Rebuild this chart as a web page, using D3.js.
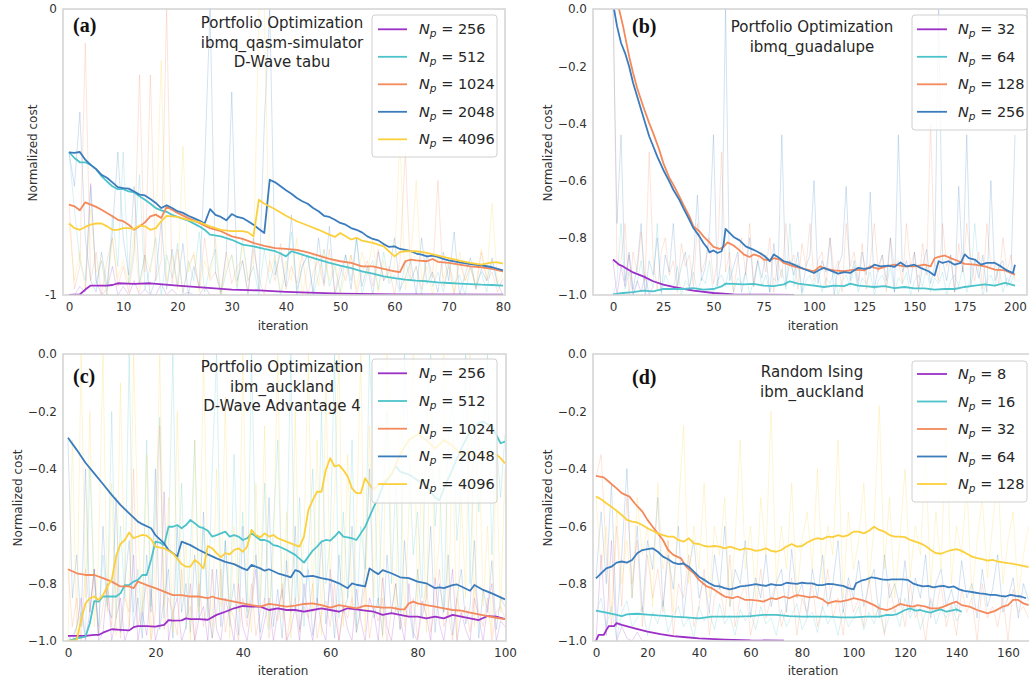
<!DOCTYPE html>
<html>
<head>
<meta charset="utf-8">
<script src="https://cdnjs.cloudflare.com/ajax/libs/d3/7.8.5/d3.min.js"></script>
<style>
  body { margin: 0; background: #fff; }
  svg { display: block; font-family: "DejaVu Sans", sans-serif; }
</style>
</head>
<body>
<div id="chart"></div>
<script>
// ################ DATA ################
// colours in legend order
var palette = ['#9c30c6', '#4cc3ca', '#f4895b', '#3b7cbd', '#fcd03c'];

// (a) Portfolio Optimization, ibmq_qasm-simulator, D-Wave tabu  -> [iteration, cost]
var labelsA = ['256', '512', '1024', '2048', '4096'];
var a256 = [[0,-1.0],[2,-0.998],[3,-0.981],[4,-0.967],[7,-0.967],[8,-0.965],[9,-0.959],[12,-0.961],[15,-0.959],[20,-0.967],[25,-0.974],[30,-0.981],[35,-0.984],[40,-0.989],[50,-0.995],[60,-0.998],[80,-0.999]];
var a512 = [[0,-0.50],[1,-0.521],[2,-0.536],[3,-0.536],[4,-0.545],[5,-0.56],[6,-0.585],[7,-0.603],[8,-0.62],[9,-0.63],[10,-0.63],[11,-0.638],[12,-0.641],[13,-0.655],[14,-0.667],[15,-0.681],[16,-0.696],[17,-0.704],[18,-0.709],[19,-0.72],[20,-0.727],[22,-0.74],[24,-0.76],[25,-0.772],[26,-0.789],[28,-0.795],[30,-0.807],[32,-0.824],[34,-0.83],[36,-0.839],[38,-0.847],[39,-0.855],[40,-0.865],[41,-0.847],[42,-0.853],[44,-0.865],[46,-0.876],[48,-0.888],[50,-0.897],[52,-0.906],[54,-0.917],[56,-0.925],[58,-0.935],[60,-0.941],[62,-0.946],[64,-0.95],[66,-0.952],[68,-0.956],[70,-0.958],[72,-0.96],[74,-0.962],[76,-0.964],[78,-0.965],[80,-0.967]];
var a1024 = [[0,-0.684],[1,-0.69],[2,-0.704],[3,-0.676],[4,-0.684],[5,-0.692],[6,-0.702],[7,-0.713],[8,-0.725],[9,-0.737],[10,-0.742],[11,-0.754],[12,-0.772],[13,-0.76],[14,-0.746],[15,-0.725],[16,-0.719],[17,-0.731],[18,-0.692],[19,-0.702],[20,-0.713],[22,-0.731],[24,-0.748],[26,-0.766],[28,-0.777],[30,-0.795],[32,-0.804],[34,-0.818],[36,-0.828],[38,-0.836],[40,-0.839],[42,-0.842],[44,-0.851],[46,-0.862],[48,-0.874],[50,-0.882],[52,-0.888],[54,-0.9],[56,-0.9],[58,-0.909],[60,-0.917],[61,-0.92],[62,-0.882],[63,-0.876],[64,-0.879],[66,-0.882],[67,-0.874],[68,-0.884],[70,-0.888],[72,-0.894],[74,-0.9],[76,-0.903],[78,-0.909],[80,-0.917]];
var a2048 = [[0,-0.501],[1,-0.503],[2,-0.50],[3,-0.527],[4,-0.545],[5,-0.56],[6,-0.58],[7,-0.59],[8,-0.606],[9,-0.623],[10,-0.626],[11,-0.628],[12,-0.638],[13,-0.649],[14,-0.652],[15,-0.664],[16,-0.678],[17,-0.696],[18,-0.686],[19,-0.696],[20,-0.707],[21,-0.713],[22,-0.723],[23,-0.731],[24,-0.74],[25,-0.75],[26,-0.70],[27,-0.72],[28,-0.727],[29,-0.739],[30,-0.717],[31,-0.727],[32,-0.731],[33,-0.742],[34,-0.754],[35,-0.769],[36,-0.783],[37,-0.597],[38,-0.606],[39,-0.62],[40,-0.634],[41,-0.646],[42,-0.661],[43,-0.672],[44,-0.681],[45,-0.696],[46,-0.707],[47,-0.723],[48,-0.727],[49,-0.737],[50,-0.748],[51,-0.754],[52,-0.766],[53,-0.772],[54,-0.781],[55,-0.795],[56,-0.804],[57,-0.809],[58,-0.822],[59,-0.832],[60,-0.83],[61,-0.839],[62,-0.842],[63,-0.847],[64,-0.855],[65,-0.859],[66,-0.865],[67,-0.862],[68,-0.867],[69,-0.874],[70,-0.879],[72,-0.886],[74,-0.892],[76,-0.896],[78,-0.903],[80,-0.914]];
var a4096 = [[0,-0.75],[1,-0.766],[2,-0.772],[3,-0.762],[4,-0.754],[5,-0.75],[6,-0.75],[7,-0.76],[8,-0.772],[9,-0.772],[10,-0.766],[11,-0.766],[12,-0.769],[13,-0.757],[14,-0.76],[15,-0.772],[16,-0.766],[17,-0.742],[18,-0.723],[19,-0.725],[20,-0.727],[22,-0.737],[24,-0.745],[26,-0.76],[28,-0.772],[30,-0.777],[32,-0.777],[33,-0.781],[34,-0.795],[35,-0.667],[36,-0.681],[38,-0.70],[40,-0.723],[42,-0.742],[44,-0.757],[46,-0.772],[48,-0.789],[49,-0.797],[50,-0.783],[52,-0.806],[53,-0.80],[54,-0.81],[56,-0.818],[58,-0.83],[60,-0.865],[61,-0.85],[62,-0.847],[64,-0.847],[66,-0.853],[68,-0.862],[70,-0.871],[72,-0.88],[74,-0.888],[76,-0.894],[78,-0.886],[79,-0.886],[80,-0.89]];
// faint raw runs (one value per iteration)
var rawA256 = [-1,-1,-0.97,-0.99,-0.61,-0.95,-1,-0.98,-0.90,-1,-0.97,-1,-0.95,-1,-0.98,-1,-1,-0.96,-1,-0.98,-1,-1,-0.99,-1,-1,-0.97,-1,-1,-1,-1];
var rawA512 = [-0.50,-0.70,-0.88,-0.95,-0.62,-0.96,-0.88,-1.00,-0.72,-0.90,-0.50,-0.96,-0.84,-0.58,-0.98,-0.90,-0.80,-1.00,-0.86,-0.94,-0.82,-1.00,-0.88,-0.95,-0.78,-0.99,-0.90,-0.84,-1.00,-0.92,-0.86,-0.98,-0.80,-0.95,-0.90,-1.00,-0.84,-0.96,-0.88,-1.00,-0.92,-0.78,-0.98,-0.90,-0.86,-1.00,-0.93,-0.84,-0.97,-0.90,-0.99,-0.86,-0.95,-0.80,-1.00,-0.92,-0.88,-0.98,-0.85,-0.96,-0.93,-0.99,-0.88,-0.95,-0.90,-1.00,-0.86,-0.97,-0.92,-0.99,-0.89,-0.96,-0.93,-1.00,-0.90,-0.97,-0.92,-0.99,-0.88,-0.97,-0.95];
var rawA1024 = [-0.68,-0.98,-0.90,-0.12,-0.95,-0.85,-1.00,-0.88,-0.80,-0.97,-0.90,-0.99,-0.86,-0.23,-0.92,-0.23,-0.95,-0.88,0.00,-0.96,-0.84,-0.99,-0.90,-0.86,-0.98,-0.80,-0.95,-0.92,-1.00,-0.85,-0.96,-0.90,-0.88,-0.99,-0.84,-0.94,-1.00,-0.88,-0.95,-0.82,-0.98,-0.90,-0.96,-0.86,-1.00,-0.92,-0.88,-0.97,-0.84,-0.99,-0.90,-0.95,-0.86,-1.00,-0.92,-0.88,-0.97,-0.84,-0.95,-0.90,-1.00,-0.88,-0.50,-0.95,-0.90,-0.98,-0.85,-0.94,-0.60,-0.97,-0.90,-1.00,-0.88,-0.95,-0.90,-0.98,-0.85,-0.95,-0.92,-0.99,-0.94];
var rawA2048 = [-0.50,-0.62,-0.36,-0.80,-0.95,-0.99,-0.85,-0.97,-0.78,-0.50,-0.80,-0.93,-0.62,-0.96,-0.86,-1.00,-0.94,-0.74,-0.98,-0.84,-0.97,-0.82,-1.00,-0.90,-0.97,-0.55,0.00,-0.92,-0.99,-0.85,-0.29,-0.95,-0.88,-1.00,-0.80,-0.98,-0.40,0.00,-0.93,-0.85,-0.97,-0.72,-1.00,-0.90,-0.86,-0.99,-0.80,-0.96,-0.76,-1.00,-0.93,-0.86,-0.98,-0.80,-0.97,-0.90,-1.00,-0.85,-0.95,-0.92,-0.80,-0.98,-0.94,-0.88,-1.00,-0.80,-0.96,-0.92,-0.99,-0.85,-0.95,-0.78,-1.00,-0.93,-0.87,-0.98,-0.91,-0.95,-0.87,-0.96,-1.00];
var rawA4096 = [-0.75,-0.95,-0.85,-0.98,-0.70,-0.92,-0.88,-1.00,-0.80,-0.94,-0.88,-0.96,-0.78,-0.99,-0.86,-0.92,-0.80,-0.18,-0.95,-0.86,-0.98,-0.48,-0.92,-0.85,-0.99,-0.88,-0.94,-0.80,-1.00,-0.90,-0.86,-0.97,-0.82,-0.95,-0.90,0.00,0.00,-0.92,-0.86,-0.99,-0.88,-0.95,-0.80,-1.00,-0.90,-0.86,-0.97,-0.84,-0.95,-0.88,-1.00,-0.92,-0.86,-0.98,-0.85,-0.93,-0.80,-0.99,-0.88,-0.95,-0.90,-0.45,-0.98,-0.88,-0.60,-0.95,-0.90,-1.00,-0.86,-0.94,-0.88,-0.99,-0.85,-0.95,-0.90,-0.97,-0.84,-0.94,-0.68,-0.96,-0.92];

// (b) Portfolio Optimization, ibmq_guadalupe
var labelsB = ['32', '64', '128', '256'];
var b32 = [[0,-0.876],[3,-0.894],[5,-0.90],[10,-0.921],[15,-0.935],[20,-0.952],[25,-0.964],[30,-0.972],[40,-0.985],[50,-0.993],[60,-0.998],[75,-0.999],[90,-1.0]];
var b64 = [[0,-0.998],[5,-0.993],[10,-0.99],[15,-0.985],[20,-0.987],[25,-0.979],[30,-0.979],[35,-0.979],[40,-0.976],[45,-0.981],[50,-0.979],[54,-0.97],[56,-0.96],[60,-0.961],[65,-0.963],[70,-0.961],[75,-0.967],[80,-0.969],[85,-0.963],[88,-0.952],[92,-0.96],[95,-0.963],[100,-0.967],[105,-0.972],[110,-0.967],[115,-0.969],[118,-0.96],[122,-0.967],[125,-0.969],[130,-0.972],[135,-0.969],[140,-0.976],[145,-0.972],[150,-0.977],[155,-0.977],[160,-0.981],[165,-0.979],[170,-0.979],[175,-0.972],[180,-0.967],[185,-0.963],[190,-0.967],[195,-0.958],[200,-0.967]];
var b128 = [[0,0.12],[3,0.0],[5,-0.06],[8,-0.165],[10,-0.224],[12,-0.276],[15,-0.34],[18,-0.399],[20,-0.434],[23,-0.492],[25,-0.538],[28,-0.59],[30,-0.614],[33,-0.655],[35,-0.684],[38,-0.725],[40,-0.76],[43,-0.777],[45,-0.795],[48,-0.816],[50,-0.832],[53,-0.839],[55,-0.832],[57,-0.816],[60,-0.827],[63,-0.844],[65,-0.858],[68,-0.867],[70,-0.858],[73,-0.865],[75,-0.876],[78,-0.879],[80,-0.871],[83,-0.876],[85,-0.888],[90,-0.90],[95,-0.909],[100,-0.917],[103,-0.90],[106,-0.909],[110,-0.914],[115,-0.917],[120,-0.911],[125,-0.914],[128,-0.90],[132,-0.909],[136,-0.90],[140,-0.894],[145,-0.90],[150,-0.90],[155,-0.894],[158,-0.90],[160,-0.871],[163,-0.865],[165,-0.862],[168,-0.871],[172,-0.882],[175,-0.891],[180,-0.894],[185,-0.90],[190,-0.911],[195,-0.914],[200,-0.929]];
var b256 = [[0,0.02],[2,-0.06],[4,-0.119],[6,-0.154],[8,-0.20],[10,-0.259],[12,-0.305],[14,-0.352],[16,-0.399],[18,-0.445],[20,-0.48],[22,-0.515],[25,-0.562],[28,-0.603],[30,-0.632],[33,-0.667],[35,-0.696],[38,-0.737],[40,-0.766],[43,-0.795],[45,-0.818],[47,-0.836],[48,-0.851],[50,-0.844],[52,-0.853],[54,-0.847],[55,-0.824],[56,-0.769],[58,-0.783],[60,-0.797],[63,-0.809],[66,-0.83],[70,-0.842],[73,-0.853],[75,-0.862],[77,-0.874],[78,-0.882],[80,-0.858],[82,-0.867],[85,-0.882],[88,-0.888],[90,-0.894],[95,-0.909],[100,-0.923],[103,-0.911],[105,-0.905],[108,-0.914],[112,-0.925],[115,-0.92],[118,-0.923],[122,-0.905],[125,-0.909],[128,-0.905],[130,-0.894],[133,-0.90],[137,-0.897],[140,-0.902],[143,-0.886],[146,-0.90],[150,-0.894],[153,-0.905],[157,-0.917],[160,-0.932],[162,-0.882],[164,-0.888],[167,-0.882],[170,-0.894],[173,-0.888],[175,-0.858],[177,-0.871],[180,-0.876],[183,-0.894],[186,-0.888],[190,-0.888],[193,-0.90],[196,-0.914],[199,-0.923],[200,-0.894]];
// faint raw runs (one value every 2 iterations)
var rawB32 = [-0.88,-1.00,-0.90,-0.97,-0.86,-1.00,-0.95,-0.99,-0.93,-1.00,-0.97];
var rawB64 = [-1.00,-0.95,-0.75,-0.98,-0.92,-1.00,-0.96,-0.88,-0.99,-0.94,-0.97,-0.75,-1.00,-0.93,-0.96,-0.98,-0.90,-1.00,-0.95,-0.97,-0.92,-0.99,-0.94,-0.96,-0.88,-1.00,-0.95,-0.93,-0.97,-0.90,-0.99,-0.94,-0.96,-0.92,-1.00,-0.95,-0.88,-0.97,-0.93,-0.99,-0.94,-0.96,-0.91,-0.98,-0.75,-0.97,-0.89,-1.00,-0.95,-0.93,-0.97,-0.91,-0.99,-0.94,-0.96,-0.92,-1.00,-0.95,-0.93,-0.97,-0.90,-0.99,-0.94,-0.96,-0.92,-1.00,-0.95,-0.93,-0.97,-0.90,-0.99,-0.94,-0.96,-0.92,-1.00,-0.95,-0.93,-0.97,-0.90,-0.99,-0.94,-0.96,-0.92,-1.00,-0.95,-0.93,-0.97,-0.90,-0.99,-0.94,-0.75,-0.92,-1.00,-0.95,-0.93,-0.97,-0.90,-0.99,-0.94,-0.96,-0.92];
var rawB128 = [0.10,-0.90,-0.88,-0.75,-1.00,-0.85,-0.92,-0.78,-0.95,-0.50,-0.88,-0.98,-0.85,-0.80,-0.93,-0.88,-0.99,-0.82,-0.90,-0.86,-0.97,-0.75,-0.92,-0.88,-0.80,-0.96,-0.88,-0.50,-0.92,-0.85,-0.99,-0.88,-0.80,-0.93,-0.75,-0.97,-0.88,-0.85,-0.92,-0.80,-0.99,-0.88,-0.94,-0.75,-0.90,-0.86,-0.98,-0.82,-0.90,-0.75,-0.95,-0.88,-0.85,-0.97,-0.80,-0.92,-0.88,-0.99,-0.75,-0.90,-0.85,-0.95,-0.82,-0.98,-0.88,-0.75,-0.92,-0.86,-0.99,-0.80,-0.90,-0.88,-0.96,-0.75,-0.90,-0.85,-0.98,-0.82,-0.93,-0.40,-0.88,-0.95,-0.75,-0.90,-0.86,-0.99,-0.82,-0.92,-0.75,-0.88,-0.95,-0.85,-0.98,-0.75,-0.90,-0.88,-0.96,-0.80,-0.92,-0.86,-0.95];
var rawB256 = [0.00,-0.75,-0.44,-0.95,-0.85,-0.98,-0.90,-0.75,-1.00,-0.88,-0.93,-0.80,-0.99,-0.86,-0.92,-0.75,-0.97,-0.90,-0.85,-0.98,-0.88,-0.65,-0.95,-0.90,-0.78,-0.44,-0.97,-0.87,0.00,-0.95,-0.90,-0.85,-0.99,-0.92,-0.80,-0.97,-0.88,-0.94,-0.86,-0.99,-0.82,-0.95,-0.44,-0.97,-0.88,-0.93,-0.85,-0.99,-0.90,-0.86,-0.60,-0.96,-0.88,-0.92,-0.80,-1.00,-0.90,-0.86,-0.62,-0.95,-0.88,-0.97,-0.85,-0.93,-0.64,-0.98,-0.90,-0.86,-0.95,-0.80,-0.99,-0.44,-0.92,-0.88,-0.96,-0.85,-0.99,-0.90,-0.84,-0.96,-0.90,0.00,-0.88,-0.95,-0.86,-0.99,-0.62,-0.92,-0.44,-0.97,-0.88,-0.94,-0.86,-0.99,-0.60,-0.95,-0.90,-0.88,-0.97,-0.93,-0.44];

// (c) Portfolio Optimization, ibm_auckland, D-Wave Advantage 4
var labelsC = ['256', '512', '1024', '2048', '4096'];
var c256 = [[0,-0.982],[4,-0.982],[6,-0.979],[7,-0.979],[8,-0.971],[10,-0.959],[12,-0.961],[14,-0.963],[15,-0.952],[16,-0.948],[18,-0.948],[20,-0.95],[22,-0.944],[23,-0.927],[24,-0.929],[26,-0.928],[27,-0.921],[28,-0.924],[30,-0.924],[32,-0.926],[34,-0.909],[36,-0.898],[38,-0.886],[40,-0.878],[42,-0.88],[44,-0.88],[46,-0.892],[48,-0.886],[50,-0.892],[52,-0.892],[54,-0.898],[56,-0.892],[58,-0.886],[60,-0.892],[62,-0.898],[64,-0.886],[66,-0.89],[68,-0.894],[70,-0.898],[72,-0.909],[74,-0.903],[76,-0.909],[78,-0.915],[80,-0.915],[82,-0.921],[84,-0.915],[86,-0.921],[88,-0.909],[90,-0.915],[92,-0.921],[94,-0.927],[96,-0.913],[98,-0.915],[100,-0.924]];
var c512 = [[0,-1.0],[2,-0.991],[4,-0.985],[5,-0.938],[6,-0.861],[7,-0.863],[8,-0.845],[11,-0.845],[12,-0.834],[13,-0.805],[14,-0.805],[15,-0.793],[16,-0.787],[17,-0.77],[18,-0.77],[19,-0.718],[20,-0.654],[21,-0.657],[22,-0.666],[23,-0.602],[24,-0.602],[25,-0.596],[26,-0.607],[27,-0.596],[28,-0.578],[29,-0.59],[30,-0.602],[31,-0.607],[32,-0.616],[33,-0.636],[34,-0.631],[35,-0.625],[36,-0.619],[37,-0.636],[38,-0.631],[39,-0.636],[40,-0.648],[41,-0.642],[42,-0.625],[43,-0.636],[44,-0.648],[45,-0.648],[46,-0.654],[47,-0.666],[48,-0.669],[50,-0.683],[52,-0.70],[54,-0.727],[55,-0.706],[56,-0.685],[57,-0.671],[58,-0.654],[59,-0.648],[60,-0.65],[61,-0.636],[62,-0.619],[63,-0.636],[64,-0.639],[65,-0.642],[66,-0.648],[67,-0.625],[68,-0.602],[69,-0.567],[70,-0.532],[71,-0.503],[72,-0.46],[74,-0.42],[75,-0.39],[76,-0.41],[78,-0.42],[80,-0.44],[82,-0.46],[84,-0.50],[85,-0.51],[86,-0.47],[88,-0.40],[90,-0.33],[92,-0.27],[94,-0.24],[95,-0.236],[97,-0.253],[99,-0.311],[100,-0.305]];
var c1024 = [[0,-0.75],[2,-0.764],[4,-0.77],[6,-0.77],[8,-0.781],[10,-0.793],[12,-0.81],[14,-0.81],[15,-0.816],[16,-0.793],[18,-0.805],[20,-0.816],[22,-0.828],[24,-0.84],[26,-0.84],[28,-0.845],[30,-0.845],[32,-0.851],[33,-0.845],[34,-0.851],[36,-0.857],[38,-0.863],[40,-0.869],[42,-0.875],[44,-0.88],[46,-0.871],[48,-0.875],[50,-0.88],[52,-0.877],[54,-0.871],[56,-0.869],[58,-0.875],[60,-0.884],[62,-0.875],[64,-0.88],[66,-0.886],[68,-0.877],[70,-0.88],[72,-0.884],[74,-0.884],[76,-0.89],[77,-0.89],[78,-0.869],[79,-0.863],[80,-0.869],[82,-0.875],[84,-0.88],[86,-0.886],[88,-0.892],[90,-0.894],[92,-0.901],[94,-0.907],[96,-0.913],[98,-0.919],[100,-0.924]];
var c2048 = [[0,-0.292],[2,-0.334],[4,-0.379],[6,-0.416],[8,-0.453],[10,-0.491],[12,-0.526],[14,-0.555],[16,-0.584],[17,-0.593],[19,-0.607],[20,-0.631],[22,-0.66],[23,-0.683],[24,-0.694],[25,-0.706],[26,-0.654],[28,-0.666],[30,-0.683],[32,-0.698],[34,-0.712],[36,-0.724],[38,-0.732],[40,-0.747],[41,-0.753],[42,-0.735],[44,-0.747],[45,-0.755],[46,-0.75],[48,-0.764],[50,-0.773],[51,-0.778],[52,-0.753],[53,-0.758],[54,-0.776],[56,-0.773],[58,-0.781],[60,-0.787],[62,-0.799],[64,-0.816],[65,-0.799],[66,-0.804],[68,-0.81],[69,-0.747],[70,-0.758],[71,-0.767],[72,-0.753],[74,-0.764],[76,-0.778],[78,-0.781],[80,-0.793],[82,-0.799],[84,-0.816],[85,-0.813],[86,-0.816],[88,-0.805],[89,-0.803],[90,-0.81],[92,-0.825],[93,-0.805],[95,-0.822],[97,-0.834],[100,-0.855]];
var c4096 = [[0,-1.0],[2,-0.997],[3,-0.927],[4,-0.869],[5,-0.851],[6,-0.845],[7,-0.857],[8,-0.84],[9,-0.81],[10,-0.787],[11,-0.706],[12,-0.662],[13,-0.648],[14,-0.622],[15,-0.642],[16,-0.636],[17,-0.63],[18,-0.633],[19,-0.645],[20,-0.671],[22,-0.677],[24,-0.694],[26,-0.732],[27,-0.741],[28,-0.741],[29,-0.718],[30,-0.729],[31,-0.747],[32,-0.669],[33,-0.677],[34,-0.694],[35,-0.708],[36,-0.694],[37,-0.698],[38,-0.683],[39,-0.677],[40,-0.689],[41,-0.671],[42,-0.613],[43,-0.631],[44,-0.639],[45,-0.625],[46,-0.636],[47,-0.631],[48,-0.642],[50,-0.654],[52,-0.666],[53,-0.671],[54,-0.636],[55,-0.544],[56,-0.509],[57,-0.48],[58,-0.48],[59,-0.404],[60,-0.363],[61,-0.392],[62,-0.387],[63,-0.404],[64,-0.427],[65,-0.468],[66,-0.485],[67,-0.485],[68,-0.433],[69,-0.456],[70,-0.474],[71,-0.456],[72,-0.45],[74,-0.42],[76,-0.35],[78,-0.30],[80,-0.28],[82,-0.30],[84,-0.33],[86,-0.30],[88,-0.32],[90,-0.35],[92,-0.34],[94,-0.36],[96,-0.35],[98,-0.35],[99,-0.363],[100,-0.381]];
// faint raw runs (one value per iteration)
var rawC256 = [-0.98,-1.00,-0.95,-0.85,-1.00,-0.90,-0.75,-1.00,-0.97,-0.80,-1.00,-0.92,-0.85,-1.00,-0.95,-0.70,-1.00,-0.90,-0.98,-0.82,-1.00,-0.93,-0.48,-1.00,-0.90,-0.85,-1.00,-0.95,-0.80,-1.00,-0.92,-0.88,-1.00,-0.75,-0.96,-1.00,-0.85,-0.92,-1.00,-0.80,-0.95,-1.00,-0.88,-0.75,-1.00,-0.93,-0.85,-1.00,-0.90,-0.82,-1.00,-0.96,-0.88,-1.00,-0.80,-0.92,-1.00,-0.85,-0.95,-1.00,-0.75,-0.90,-1.00,-0.88,-0.96,-1.00,-0.82,-0.93,-1.00,-0.85,-0.90,-1.00,-0.78,-0.95,-1.00,-0.88,-0.92,-1.00,-0.80,-0.97,-1.00,-0.86,-0.91,-1.00,-0.78,-0.94,-1.00,-0.88,-0.75,-1.00,-0.90,-0.96,-1.00,-0.85,-0.92,-1.00,-0.88,-0.80,-1.00,-0.93,-0.95];
var rawC512 = [-1.00,-0.98,-0.95,-0.90,-0.99,-0.40,-0.80,-0.95,-0.70,-0.88,-0.20,-0.92,-0.60,-0.85,0.00,-0.90,-0.75,-0.95,-0.30,-0.88,-0.55,-0.22,-0.92,-0.65,0.00,-0.85,-0.45,-0.96,-0.70,-0.30,-0.88,-0.60,-0.92,-0.40,0.00,-0.85,-0.65,-0.95,-0.35,-0.80,-0.55,-0.90,0.00,-0.70,-0.88,-0.45,-0.96,-0.60,-0.30,-0.85,-0.75,0.00,-0.90,-0.50,-0.95,-0.70,-0.40,-0.88,-0.20,-0.80,-0.65,0.00,-0.92,-0.55,-0.85,-0.30,-0.95,-0.60,-0.75,0.00,-0.40,-0.88,-0.50,-0.20,-0.80,-0.45,-0.90,0.00,-0.35,-0.70,-0.55,-0.85,-0.25,0.00,-0.60,-0.40,-0.90,-0.30,-0.15,-0.65,-0.45,0.00,-0.80,-0.25,-0.55,-0.35,0.00,-0.70,-0.30,-0.50,-0.28];
var rawC1024 = [-0.75,-0.95,-0.85,-1.00,-0.75,-0.90,-0.75,-0.98,-0.88,-0.80,-0.95,-0.70,-0.99,-0.85,-0.90,-0.40,-0.95,-0.88,-0.80,-1.00,-0.90,-0.25,-0.96,-0.85,-0.90,-0.98,-0.75,-0.92,-0.88,-1.00,-0.80,-0.95,-0.85,-0.99,-0.90,-0.75,-0.97,-0.88,-0.92,-1.00,-0.85,-0.95,-0.80,-0.98,-0.90,-0.85,-0.99,-0.88,-0.93,-0.80,-1.00,-0.90,-0.85,-0.97,-0.88,-0.92,-0.80,-0.99,-0.90,-0.86,-0.95,-0.80,-1.00,-0.88,-0.92,-0.85,-0.97,-0.90,-0.80,-0.99,-0.88,-0.93,-0.85,-1.00,-0.90,-0.80,-0.96,-0.88,-0.92,-0.85,-0.99,-0.90,-0.80,-0.97,-0.88,-0.75,-0.95,-0.90,-1.00,-0.85,-0.92,-0.88,-0.97,-0.80,-0.90,-0.95,-0.85,-1.00,-0.90,-0.88,-0.92];
var rawC2048 = [-0.30,-0.85,-0.70,-0.95,-0.40,-0.90,-0.75,-0.98,-0.60,-0.88,-0.92,-0.50,-0.97,-0.80,-0.65,-0.95,-0.85,-0.99,-0.70,-0.90,-0.40,-0.96,-0.85,-0.75,-0.99,-0.60,-0.90,-0.80,-0.97,-0.70,-0.92,-0.55,-0.88,-0.99,-0.75,-0.95,-0.65,-0.90,-0.80,-0.98,-0.60,-0.92,-0.85,-0.70,-0.97,-0.88,-0.50,-0.95,-0.82,-0.99,-0.72,-0.90,-0.60,-0.96,-0.85,-0.75,-0.98,-0.88,-0.65,-0.94,-0.80,-0.99,-0.70,-0.90,-0.85,-0.60,-0.97,-0.88,-0.75,-0.40,-0.92,-0.85,-0.98,-0.70,-0.90,-0.80,-0.96,-0.65,-0.88,-0.99,-0.75,-0.92,-0.85,-0.60,-0.97,-0.80,-0.90,-0.70,-0.98,-0.85,-0.75,-0.94,-0.88,-0.65,-0.99,-0.82,-0.90,-0.72,-0.96,-0.85,-0.88];
var rawC4096 = [-1.00,-0.30,-0.98,0.00,-0.85,-0.20,-0.95,-0.70,0.00,-0.90,-0.45,-0.98,-0.10,-0.80,-0.95,0.00,-0.60,-0.90,-0.35,-0.99,-0.70,0.00,-0.88,-0.50,-0.97,-0.20,-0.85,-0.65,-1.00,-0.30,-0.90,0.00,-0.75,-0.95,-0.40,-0.88,-0.15,-0.99,-0.60,-0.90,0.00,-0.80,-0.97,-0.45,-0.85,-0.25,-0.95,-0.70,0.00,-0.92,-0.55,-0.99,-0.20,-0.86,-0.65,0.00,-0.90,-0.30,-0.98,-0.10,-0.80,-0.50,0.00,-0.95,-0.35,-0.88,-0.60,0.00,-0.97,-0.25,-0.85,-0.45,-0.99,0.00,-0.70,-0.90,-0.20,-0.95,-0.55,0.00,-0.88,-0.40,-0.97,-0.15,-0.80,-0.65,0.00,-0.92,-0.30,-0.99,-0.50,-0.85,0.00,-0.95,-0.25,-0.88,-0.60,-0.98,-0.35,-0.90,-0.40];

// (d) Random Ising, ibm_auckland
var labelsD = ['8', '16', '32', '64', '128'];
var d8 = [[0,-1.0],[1,-0.979],[3,-0.979],[4,-0.962],[5,-0.948],[7,-0.948],[8,-0.938],[10,-0.944],[15,-0.956],[20,-0.967],[25,-0.976],[30,-0.983],[35,-0.987],[40,-0.991],[50,-0.995],[60,-0.998],[73,-0.999]];
var d16 = [[0,-0.894],[4,-0.901],[8,-0.909],[10,-0.913],[12,-0.907],[14,-0.906],[16,-0.905],[20,-0.908],[24,-0.911],[28,-0.913],[30,-0.915],[35,-0.918],[40,-0.921],[45,-0.915],[50,-0.915],[55,-0.915],[60,-0.913],[65,-0.909],[70,-0.909],[75,-0.913],[80,-0.915],[85,-0.915],[90,-0.915],[95,-0.918],[100,-0.918],[105,-0.915],[110,-0.915],[113,-0.909],[115,-0.91],[117,-0.906],[120,-0.892],[122,-0.886],[124,-0.894],[126,-0.892],[128,-0.898],[130,-0.901],[132,-0.894],[134,-0.89],[136,-0.898],[138,-0.894],[140,-0.89],[142,-0.898]];
var d32 = [[0,-0.425],[3,-0.43],[5,-0.445],[8,-0.468],[10,-0.485],[13,-0.497],[15,-0.52],[18,-0.549],[20,-0.578],[22,-0.602],[24,-0.625],[26,-0.648],[28,-0.683],[30,-0.70],[33,-0.712],[35,-0.741],[38,-0.764],[40,-0.787],[43,-0.81],[45,-0.816],[48,-0.834],[50,-0.845],[53,-0.851],[55,-0.845],[58,-0.857],[60,-0.857],[63,-0.859],[65,-0.863],[68,-0.851],[70,-0.854],[73,-0.845],[75,-0.851],[78,-0.84],[80,-0.843],[83,-0.848],[85,-0.845],[88,-0.855],[90,-0.869],[93,-0.861],[95,-0.863],[98,-0.857],[100,-0.851],[103,-0.857],[105,-0.863],[108,-0.875],[110,-0.886],[113,-0.892],[115,-0.886],[118,-0.871],[120,-0.875],[123,-0.88],[125,-0.875],[128,-0.88],[130,-0.886],[133,-0.886],[135,-0.88],[138,-0.869],[140,-0.863],[142,-0.875],[145,-0.88],[148,-0.892],[150,-0.898],[152,-0.904],[155,-0.895],[158,-0.88],[160,-0.875],[162,-0.857],[164,-0.857],[166,-0.869],[168,-0.875]];
var d64 = [[0,-0.782],[2,-0.764],[4,-0.747],[6,-0.741],[8,-0.727],[10,-0.723],[12,-0.727],[14,-0.718],[16,-0.694],[18,-0.683],[20,-0.68],[22,-0.677],[24,-0.689],[26,-0.706],[28,-0.715],[30,-0.727],[32,-0.732],[34,-0.73],[36,-0.741],[38,-0.758],[40,-0.776],[42,-0.787],[44,-0.799],[46,-0.808],[48,-0.81],[50,-0.816],[52,-0.82],[54,-0.816],[56,-0.81],[58,-0.808],[60,-0.805],[62,-0.802],[64,-0.805],[66,-0.808],[68,-0.802],[70,-0.805],[72,-0.805],[74,-0.797],[76,-0.799],[78,-0.801],[80,-0.797],[82,-0.799],[84,-0.799],[86,-0.805],[88,-0.805],[90,-0.801],[92,-0.802],[94,-0.805],[96,-0.808],[98,-0.816],[100,-0.82],[101,-0.799],[103,-0.79],[105,-0.785],[107,-0.778],[109,-0.781],[111,-0.785],[113,-0.787],[115,-0.785],[117,-0.785],[119,-0.785],[121,-0.787],[123,-0.799],[125,-0.805],[127,-0.81],[129,-0.808],[131,-0.813],[133,-0.81],[135,-0.808],[137,-0.813],[139,-0.81],[141,-0.82],[143,-0.825],[145,-0.828],[147,-0.831],[149,-0.834],[151,-0.836],[153,-0.839],[155,-0.839],[157,-0.843],[159,-0.845],[161,-0.839],[163,-0.843],[165,-0.845],[167,-0.851]];
var d128 = [[0,-0.497],[2,-0.506],[4,-0.52],[6,-0.532],[8,-0.546],[10,-0.561],[12,-0.578],[14,-0.584],[16,-0.587],[18,-0.596],[20,-0.607],[22,-0.616],[24,-0.625],[26,-0.631],[28,-0.636],[30,-0.636],[32,-0.648],[34,-0.654],[36,-0.642],[38,-0.66],[40,-0.662],[42,-0.669],[44,-0.671],[46,-0.669],[48,-0.671],[50,-0.677],[52,-0.671],[54,-0.677],[56,-0.683],[58,-0.677],[60,-0.68],[62,-0.686],[64,-0.683],[66,-0.677],[68,-0.686],[70,-0.689],[72,-0.683],[74,-0.671],[76,-0.662],[78,-0.671],[80,-0.669],[82,-0.657],[84,-0.648],[86,-0.642],[88,-0.645],[90,-0.636],[92,-0.638],[94,-0.631],[96,-0.636],[98,-0.631],[100,-0.619],[102,-0.619],[104,-0.625],[106,-0.616],[108,-0.602],[110,-0.613],[112,-0.619],[114,-0.631],[116,-0.636],[118,-0.636],[120,-0.638],[122,-0.648],[124,-0.654],[126,-0.66],[128,-0.669],[130,-0.683],[132,-0.694],[134,-0.696],[136,-0.689],[138,-0.683],[140,-0.68],[142,-0.686],[144,-0.696],[146,-0.706],[148,-0.711],[150,-0.715],[152,-0.72],[154,-0.717],[156,-0.723],[158,-0.726],[160,-0.729],[162,-0.731],[164,-0.735],[166,-0.738],[168,-0.743]];
// faint raw runs (one value every 2 iterations)
var rawD8 = [-1.00,-0.70,-0.98,-0.65,-1.00,-0.95,-0.99,-1.00,-0.97,-1.00,-1.00];
var rawD16 = [-0.90,-0.85,-0.95,-0.88,-0.99,-0.90,-0.86,-0.95,-0.92,-0.88,-0.98,-0.90,-0.94,-0.86,-0.97,-0.91,-0.88,-0.95,-0.92,-0.99,-0.88,-0.93,-0.90,-0.96,-0.87,-0.94,-0.91,-0.98,-0.89,-0.93,-0.90,-0.96,-0.88,-0.94,-0.92,-0.98,-0.89,-0.95,-0.91,-0.87,-0.96,-0.92,-0.90,-0.97,-0.88,-0.94,-0.91,-0.98,-0.89,-0.95,-0.92,-0.88,-0.96,-0.90,-0.94,-0.87,-0.97,-0.91,-0.89,-0.95,-0.85,-0.92,-0.88,-0.96,-0.90,-0.86,-0.94,-0.89,-0.92,-0.87,-0.93,-0.90];
var rawD32 = [-0.43,-0.35,-0.70,-0.95,-0.60,-0.88,-0.50,-0.80,-0.65,-0.95,-0.70,-0.85,-0.75,-0.90,-0.65,-0.98,-0.80,-0.85,-0.70,-0.95,-0.88,-0.75,-0.98,-0.85,-0.80,-0.92,-0.70,-0.95,-0.85,-0.80,-0.98,-0.90,-0.75,-0.92,-0.85,-0.80,-0.95,-0.88,-0.78,-0.98,-0.85,-0.90,-0.80,-0.95,-0.88,-0.75,-0.92,-0.85,-0.98,-0.80,-0.90,-0.85,-0.95,-0.78,-0.92,-0.88,-0.98,-0.80,-0.90,-0.85,-0.95,-0.80,-0.92,-0.88,-1.00,-0.85,-0.90,-0.80,-0.95,-0.88,-0.98,-0.82,-0.90,-0.85,-1.00,-0.80,-0.92,-0.88,-0.95,-0.85,-1.00,-0.82,-0.90,-0.88,-0.92];
var rawD64 = [-0.78,-0.55,-0.80,-0.45,-0.95,-0.70,-0.40,-0.85,-0.60,-0.90,-0.65,-0.75,-0.50,-0.88,-0.70,-0.82,-0.60,-0.92,-0.75,-0.65,-0.85,-0.78,-0.90,-0.70,-0.82,-0.60,-0.88,-0.75,-0.80,-0.65,-0.92,-0.78,-0.85,-0.70,-0.88,-0.80,-0.75,-0.90,-0.68,-0.85,-0.80,-0.92,-0.75,-0.85,-0.70,-0.88,-0.80,-0.65,-0.90,-0.78,-0.85,-0.72,-0.88,-0.80,-0.75,-0.92,-0.70,-0.85,-0.80,-0.88,-0.72,-0.90,-0.78,-0.85,-0.70,-0.92,-0.80,-0.75,-0.88,-0.82,-0.90,-0.72,-0.85,-0.80,-0.92,-0.75,-0.88,-0.82,-0.70,-0.90,-0.85,-0.78,-0.92,-0.80,-0.86];
var rawD128 = [-0.50,-0.75,-0.60,-0.90,-0.55,-0.80,-0.65,-0.85,-0.50,-0.70,-0.60,-0.88,-0.45,-0.75,-0.65,-0.90,-0.55,-0.25,-0.80,-0.60,-0.75,-0.45,-0.85,-0.60,-0.70,-0.50,-0.88,-0.65,-0.30,-0.75,-0.60,-0.85,-0.50,-0.70,-0.20,-0.80,-0.60,-0.75,-0.45,-0.85,-0.65,-0.55,-0.75,-0.40,-0.80,-0.60,-0.70,-0.30,-0.85,-0.55,-0.75,-0.65,-0.45,-0.80,-0.60,-0.18,-0.75,-0.50,-0.85,-0.65,-0.40,-0.78,-0.60,-0.70,-0.35,-0.82,-0.55,-0.75,-0.25,-0.80,-0.60,-0.70,-0.45,-0.85,-0.65,-0.50,-0.78,-0.60,-0.40,-0.80,-0.65,-0.55,-0.85,-0.70,-0.60];

var xTicksA = [0, 10, 20, 30, 40, 50, 60, 70, 80];
var xTicksB = [0, 25, 50, 75, 100, 125, 150, 175, 200];
var xTicksC = [0, 20, 40, 60, 80, 100];
var xTicksD = [0, 20, 40, 60, 80, 100, 120, 140, 160];
var yTicksA = [0, -1];
var yTicksFine = [0, -0.2, -0.4, -0.6, -0.8, -1.0];

// ################ CHART ################
function renderPanel(params) {
  var attrs = {
    id: 'p' + Math.floor(Math.random() * 1000000),
    svg: null,
    frame: { left: 0, right: 0, top: 0, bottom: 0 },
    xDomain: [0, 1], xRange: [0, 1],
    xTicks: [], yTicks: [], yFormat: d3.format('.1f'),
    series: [], raw: [], rawStep: 1, labels: [],
    title: [], titleX: 0, titleY: 0,
    tag: '', tagX: 0, tagY: 0,
    legend: null,
    fontColor: '#333333'
  };
  Object.keys(params).forEach(function (k) { attrs[k] = params[k]; });

  var f = attrs.frame;
  var svg = attrs.svg;
  var g = svg.append('g').attr('class', 'panel ' + attrs.id);

  // scales
  var x = d3.scaleLinear().domain(attrs.xDomain).range(attrs.xRange);
  var y = d3.scaleLinear().domain([-1, 0]).range([f.bottom, f.top]);
  var line = d3.line().x(function (d) { return x(d[0]); }).y(function (d) { return y(d[1]); });

  // clip to plot area
  svg.append('clipPath').attr('id', 'clip-' + attrs.id)
    .append('rect')
    .attr('x', f.left).attr('y', f.top)
    .attr('width', f.right - f.left).attr('height', f.bottom - f.top);

  var plot = g.append('g').attr('clip-path', 'url(#clip-' + attrs.id + ')');

  // faint raw runs
  attrs.raw.forEach(function (vals, i) {
    var pts = vals.map(function (v, j) { return [j * attrs.rawStep, v]; });
    plot.append('path').datum(pts)
      .attr('d', line)
      .attr('fill', 'none')
      .attr('stroke', palette[i])
      .attr('stroke-opacity', 0.22)
      .attr('stroke-width', 1);
  });

  // smoothed series
  attrs.series.forEach(function (s, i) {
    plot.append('path').datum(s)
      .attr('d', line)
      .attr('fill', 'none')
      .attr('stroke', palette[i])
      .attr('stroke-width', 1.8)
      .attr('stroke-linejoin', 'round');
  });

  // frame
  g.append('rect')
    .attr('x', f.left).attr('y', f.top)
    .attr('width', f.right - f.left).attr('height', f.bottom - f.top)
    .attr('fill', 'none').attr('stroke', '#d2d2d2').attr('stroke-width', 1.5);

  // axes
  var xAxis = g.append('g')
    .attr('transform', 'translate(0,' + f.bottom + ')')
    .call(d3.axisBottom(x).tickValues(attrs.xTicks).tickSize(0).tickPadding(7.5));
  var yAxis = g.append('g')
    .attr('transform', 'translate(' + f.left + ',0)')
    .call(d3.axisLeft(y).tickValues(attrs.yTicks).tickSize(0).tickPadding(6).tickFormat(attrs.yFormat));
  [xAxis, yAxis].forEach(function (a) {
    a.select('.domain').remove();
    a.selectAll('text')
      .attr('font-family', '"DejaVu Sans", sans-serif')
      .attr('font-size', 12)
      .attr('fill', attrs.fontColor);
  });

  // axis titles
  g.append('text')
    .attr('x', (attrs.xLabelX)).attr('y', attrs.xLabelY)
    .attr('text-anchor', 'middle').attr('font-size', 12).attr('fill', attrs.fontColor)
    .text('iteration');
  g.append('text')
    .attr('transform', 'translate(' + attrs.yLabelX + ',' + attrs.yLabelY + ') rotate(-90)')
    .attr('text-anchor', 'middle').attr('font-size', 12).attr('fill', attrs.fontColor)
    .text('Normalized cost');

  // title lines
  attrs.title.forEach(function (t, i) {
    g.append('text')
      .attr('x', attrs.titleX).attr('y', attrs.titleY + i * 19.5)
      .attr('text-anchor', 'middle').attr('font-size', 15).attr('fill', '#262626')
      .text(t);
  });

  // panel tag
  g.append('text')
    .attr('x', attrs.tagX).attr('y', attrs.tagY)
    .attr('font-family', '"Liberation Serif", "Times New Roman", serif')
    .attr('font-weight', 'bold').attr('font-size', 20).attr('fill', '#111')
    .text(attrs.tag);

  // legend
  var L = attrs.legend;
  var lg = g.append('g');
  lg.append('rect')
    .attr('x', L.x).attr('y', L.y).attr('width', L.w).attr('height', L.h)
    .attr('rx', 3).attr('fill', '#fff').attr('fill-opacity', 0.8)
    .attr('stroke', '#d0d0d0').attr('stroke-width', 1);
  attrs.labels.forEach(function (lab, i) {
    var cy = L.row0 + i * L.rowStep;
    lg.append('line')
      .attr('x1', L.lineX0).attr('x2', L.lineX1).attr('y1', cy).attr('y2', cy)
      .attr('stroke', palette[i]).attr('stroke-width', 1.8);
    var t = lg.append('text')
      .attr('x', L.textX).attr('y', cy + 5)
      .attr('font-size', 14.5).attr('fill', '#262626');
    t.append('tspan').attr('font-style', 'italic').text('N');
    t.append('tspan').attr('font-style', 'italic').attr('font-size', 10.5).attr('dy', 3).text('p');
    t.append('tspan').attr('dy', -3).text(' = ' + lab);
  });
}

var svg = d3.select('#chart').append('svg')
  .attr('width', 1029).attr('height', 679);
svg.append('rect').attr('width', 1029).attr('height', 679).attr('fill', '#fff');

renderPanel({
  svg: svg, id: 'a',
  frame: { left: 63, right: 505, top: 9, bottom: 295 },
  xDomain: [0, 80], xRange: [69, 503],
  xTicks: xTicksA, yTicks: yTicksA, yFormat: function (d) { return d === 0 ? '0' : '-1'; },
  series: [a256, a512, a1024, a2048, a4096],
  raw: [rawA256, rawA512, rawA1024, rawA2048, rawA4096], rawStep: 1,
  labels: labelsA,
  title: ['Portfolio Optimization', 'ibmq_qasm-simulator', 'D-Wave tabu'], titleX: 282, titleY: 28,
  tag: '(a)', tagX: 73, tagY: 32,
  xLabelX: 283, xLabelY: 330, yLabelX: 37, yLabelY: 153,
  legend: { x: 372, y: 15, w: 125, h: 142, row0: 29.3, rowStep: 27.5, lineX0: 378, lineX1: 407, textX: 419 }
});

renderPanel({
  svg: svg, id: 'b',
  frame: { left: 593, right: 1027, top: 9, bottom: 295 },
  xDomain: [0, 200], xRange: [613, 1015],
  xTicks: xTicksB, yTicks: yTicksFine,
  series: [b32, b64, b128, b256],
  raw: [rawB32, rawB64, rawB128, rawB256], rawStep: 2,
  labels: labelsB,
  title: ['Portfolio Optimization', 'ibmq_guadalupe'], titleX: 812, titleY: 32,
  tag: '(b)', tagX: 632, tagY: 33,
  xLabelX: 813, xLabelY: 330, yLabelX: 552, yLabelY: 153,
  legend: { x: 912, y: 15, w: 115, h: 115, row0: 29.3, rowStep: 27.5, lineX0: 917, lineX1: 947, textX: 958 }
});

renderPanel({
  svg: svg, id: 'c',
  frame: { left: 63, right: 506, top: 354, bottom: 641 },
  xDomain: [0, 100], xRange: [68, 505],
  xTicks: xTicksC, yTicks: yTicksFine,
  series: [c256, c512, c1024, c2048, c4096],
  raw: [rawC256, rawC512, rawC1024, rawC2048, rawC4096], rawStep: 1,
  labels: labelsC,
  title: ['Portfolio Optimization', 'ibm_auckland', 'D-Wave Advantage 4'], titleX: 282, titleY: 372,
  tag: '(c)', tagX: 73, tagY: 383,
  xLabelX: 283, xLabelY: 675, yLabelX: 22, yLabelY: 498,
  legend: { x: 372, y: 359, w: 125, h: 144, row0: 373.3, rowStep: 27.7, lineX0: 378, lineX1: 407, textX: 419 }
});

renderPanel({
  svg: svg, id: 'd',
  frame: { left: 593, right: 1045, top: 354, bottom: 641 },
  xDomain: [0, 160], xRange: [596, 1008],
  xTicks: xTicksD, yTicks: yTicksFine,
  series: [d8, d16, d32, d64, d128],
  raw: [rawD8, rawD16, rawD32, rawD64, rawD128], rawStep: 2,
  labels: labelsD,
  title: ['Random Ising', 'ibm_auckland'], titleX: 812, titleY: 377,
  tag: '(d)', tagX: 632, tagY: 384,
  xLabelX: 813, xLabelY: 675, yLabelX: 552, yLabelY: 498,
  legend: { x: 912, y: 361, w: 115, h: 141, row0: 374, rowStep: 27.5, lineX0: 917, lineX1: 947, textX: 958 }
});
</script>
</body>
</html>
